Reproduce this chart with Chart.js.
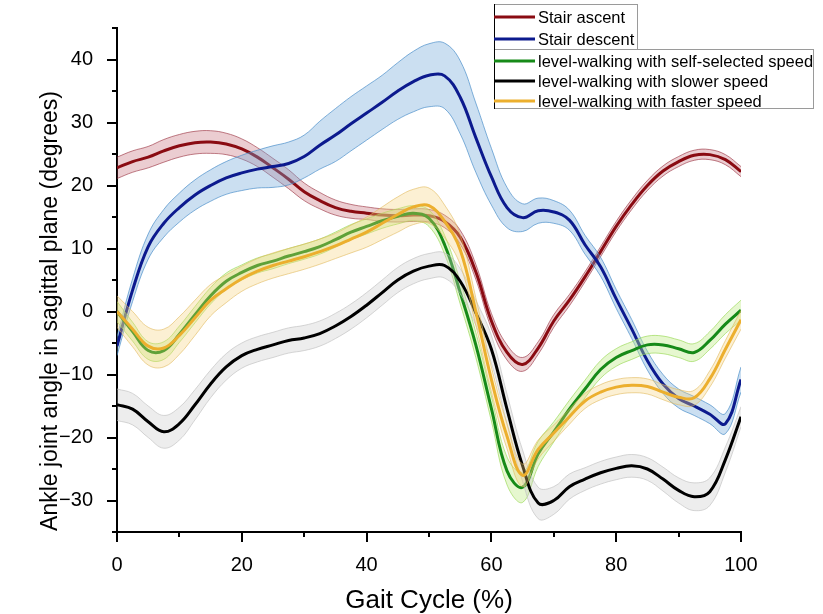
<!DOCTYPE html>
<html>
<head>
<meta charset="utf-8">
<title>Ankle joint angle</title>
<script src="https://cdn.jsdelivr.net/npm/chart.js@4.4.1/dist/chart.umd.min.js"></script>
<style>
  html, body { margin: 0; padding: 0; background: #fff; }
  canvas { display: block; }
</style>
</head>
<body>
<canvas id="ankleChart" width="823" height="614"></canvas>
<script>
// gait cycle sample points (%)
const gaitPct = [0, 2.5, 5, 7.5, 10, 12.5, 15, 17.5, 20, 22.5, 25, 27.5, 30, 32.5, 35, 37.5, 40, 42.5, 45, 47.5,
  50, 52.5, 55, 57.5, 60, 62.5, 65, 67.5, 70, 72.5, 75, 77.5, 80, 82.5, 85, 87.5, 90, 92.5, 95, 97.5, 100];

// mean ankle angle (deg) and spread for each task
const stairAscent = [22.8, 23.8, 24.5, 25.5, 26.3, 26.8, 26.9, 26.6, 25.8, 24.5, 22.8, 21.0, 19.0, 17.6, 16.5, 15.9, 15.6, 15.3, 15.2, 15.3,
  15.2, 14.3, 11.8, 6.3, -1.5, -6.5, -8.4, -5.8, -1.5, 1.8, 5.5, 9.5, 13.5, 17.0, 20.0, 22.3, 23.8, 24.8, 24.9, 24.1, 22.2];
const ascentSd = [1.7, 1.7, 1.7, 1.8, 1.8, 1.8, 1.8, 1.7, 1.6, 1.5, 1.5, 1.5, 1.4, 1.3, 1.2, 1.1, 1.0, 1.0, 1.0, 1.0,
  1.0, 1.0, 1.1, 1.2, 1.2, 1.2, 1.1, 1.0, 1.0, 0.9, 0.8, 0.8, 0.8, 0.8, 0.8, 0.8, 0.8, 0.8, 0.8, 0.8, 0.8];

const stairDescent = [-5.5, 3.4, 10.3, 14.0, 16.5, 18.5, 20.0, 21.2, 22.0, 22.6, 23.0, 23.5, 24.6, 26.4, 28.0, 29.8, 31.5, 33.2, 35.0, 36.5,
  37.5, 37.4, 34.0, 27.6, 21.4, 16.5, 14.9, 16.0, 15.8, 14.5, 10.6, 7.1, 2.0, -2.8, -7.8, -11.5, -13.8, -15.0, -16.3, -17.8, -10.8];
const descentSd = [1.5, 1.8, 2.0, 2.2, 2.3, 2.4, 2.5, 2.6, 2.8, 3.0, 3.3, 3.4, 3.4, 3.8, 4.2, 4.3, 4.3, 4.3, 4.5, 4.8,
  5.0, 5.2, 5.8, 5.5, 4.5, 3.2, 2.2, 2.0, 1.8, 1.6, 1.5, 1.5, 1.5, 1.5, 1.5, 1.5, 1.5, 1.5, 1.5, 1.6, 2.0];

const levelSelf = [0.0, -3.2, -6.2, -6.2, -3.6, -0.5, 2.5, 4.8, 6.2, 7.3, 8.0, 8.8, 9.5, 10.3, 11.4, 12.6, 13.5, 14.4, 15.1, 15.6,
  14.8, 10.6, 3.0, -5.3, -15.4, -25.3, -27.9, -22.6, -19.1, -15.5, -12.3, -9.2, -7.3, -6.2, -5.3, -5.3, -5.9, -6.5, -4.6, -2.0, 0.2];
const selfSd = [1.6, 1.5, 1.4, 1.4, 1.3, 1.3, 1.3, 1.3, 1.2, 1.2, 1.2, 1.2, 1.2, 1.2, 1.2, 1.2, 1.2, 1.2, 1.2, 1.2,
  1.3, 1.5, 1.8, 2.0, 2.0, 2.2, 2.4, 2.0, 1.6, 1.4, 1.4, 1.4, 1.4, 1.4, 1.4, 1.4, 1.4, 1.4, 1.4, 1.5, 1.6];

const levelSlow = [-14.8, -15.5, -17.5, -19.1, -17.8, -14.8, -11.5, -8.8, -7.0, -6.0, -5.3, -4.6, -4.2, -3.5, -2.3, -0.8, 1.0, 3.0, 5.0, 6.4,
  7.2, 7.3, 4.8, -0.2, -6.0, -15.5, -24.5, -30.4, -30.0, -27.8, -26.6, -25.6, -24.9, -24.5, -25.0, -26.6, -28.4, -29.4, -28.6, -23.5, -16.7];
const slowSd = [2.5, 2.5, 2.5, 2.6, 2.6, 2.4, 2.2, 2.1, 2.0, 2.0, 2.0, 2.0, 2.0, 2.0, 2.0, 2.0, 2.0, 2.0, 2.0, 2.0,
  2.0, 2.0, 2.0, 2.0, 2.2, 2.4, 2.5, 2.5, 2.2, 2.0, 1.8, 1.8, 1.8, 1.8, 1.8, 1.9, 2.0, 2.2, 2.2, 2.0, 1.6];

const levelFast = [0.0, -2.8, -5.5, -5.8, -3.8, -1.0, 1.8, 3.6, 5.2, 6.4, 7.3, 8.0, 8.7, 9.5, 10.4, 11.5, 12.6, 14.0, 15.4, 16.6,
  16.8, 14.3, 9.8, 0.0, -10.8, -19.8, -26.0, -21.9, -19.3, -16.7, -14.2, -12.8, -12.0, -11.7, -11.9, -12.8, -13.6, -13.7, -10.7, -6.0, -1.3];
const fastSd = [2.5, 2.8, 3.0, 3.0, 3.0, 2.8, 2.5, 2.2, 2.0, 2.0, 2.0, 2.0, 2.0, 2.0, 2.0, 2.2, 2.4, 2.6, 2.8, 2.8,
  2.8, 2.6, 2.4, 2.2, 2.0, 2.0, 1.8, 1.5, 1.3, 1.2, 1.2, 1.2, 1.2, 1.2, 1.2, 1.2, 1.2, 1.2, 1.3, 1.4, 1.5];

const xTicks = [0, 10, 20, 30, 40, 50, 60, 70, 80, 90, 100];
const yTicks = [-35, -30, -25, -20, -15, -10, -5, 0, 5, 10, 15, 20, 25, 30, 35, 40, 45];

const FONT = "'Liberation Sans', Arial, Helvetica, sans-serif";

// drawn in this order, later ones on top
const series = [
  { label: 'Stair ascent', mean: stairAscent, sd: ascentSd,
    line: '#8a0b12', fill: 'rgba(180,70,85,0.27)', edge: 'rgba(150,40,55,0.75)' },
  { label: 'Stair descent', mean: stairDescent, sd: descentSd,
    line: '#0c1a8e', fill: 'rgba(110,165,215,0.36)', edge: 'rgba(70,140,200,0.85)' },
  { label: 'level-walking with self-selected speed', mean: levelSelf, sd: selfSd,
    line: '#168a18', fill: 'rgba(190,235,130,0.38)', edge: 'rgba(150,215,80,0.8)' },
  { label: 'level-walking with slower speed', mean: levelSlow, sd: slowSd,
    line: '#000000', fill: 'rgba(200,200,200,0.32)', edge: 'rgba(190,190,190,0.8)' },
  { label: 'level-walking with faster speed', mean: levelFast, sd: fastSd,
    line: '#ecaf2e', fill: 'rgba(245,210,120,0.33)', edge: 'rgba(225,185,90,0.75)' }
];

const toPoints = arr => gaitPct.map((x, i) => ({ x: x, y: arr[i] }));

const datasets = [];
series.forEach(s => {
  const upper = s.mean.map((v, i) => v + s.sd[i]);
  const lower = s.mean.map((v, i) => v - s.sd[i]);
  datasets.push({ data: toPoints(upper), borderColor: s.edge, borderWidth: 0.8,
    backgroundColor: s.fill, fill: '+1' });
  datasets.push({ data: toPoints(lower), borderColor: s.edge, borderWidth: 0.8, fill: false });
  datasets.push({ label: s.label, data: toPoints(s.mean), borderColor: s.line, borderWidth: 3, fill: false });
});
datasets.forEach((d, k) => {
  d.order = datasets.length - k;
  d.pointRadius = 0;
  d.tension = 0.4;
});

// outward tick marks, long on labelled values, plus axis titles
const axisTicks = {
  id: 'axisTicks',
  afterDraw(chart) {
    const { ctx, chartArea, scales } = chart;
    ctx.save();
    ctx.strokeStyle = '#000';
    ctx.lineWidth = 2;
    ctx.beginPath();
    xTicks.forEach(v => {
      const px = Math.round(scales.x.getPixelForValue(v));
      const len = v % 20 === 0 ? 10 : 5;
      ctx.moveTo(px, chartArea.bottom);
      ctx.lineTo(px, chartArea.bottom + len);
    });
    yTicks.forEach(v => {
      const py = Math.round(scales.y.getPixelForValue(v));
      const len = v % 10 === 0 ? 10 : 5;
      ctx.moveTo(chartArea.left, py);
      ctx.lineTo(chartArea.left - len, py);
    });
    ctx.stroke();

    ctx.fillStyle = '#000';
    ctx.font = '26px ' + FONT;
    ctx.textAlign = 'center';
    ctx.textBaseline = 'alphabetic';
    ctx.fillText('Gait Cycle (%)', (chartArea.left + chartArea.right) / 2, 608);
    ctx.translate(57, 311);
    ctx.rotate(-Math.PI / 2);
    ctx.font = '23px ' + FONT;
    ctx.fillText('Ankle joint angle in sagittal plane (degrees)', 0, 0);
    ctx.restore();
  }
};

// two framed legend blocks in the upper right
const boxLegend = {
  id: 'boxLegend',
  afterDraw(chart) {
    const { ctx } = chart;
    const rowY = [17, 39, 61, 81, 101];
    ctx.save();
    ctx.fillStyle = '#fff';
    ctx.fillRect(494, 4, 143, 45);
    ctx.fillRect(494, 49, 319, 59);
    ctx.strokeStyle = '#9a9a9a';
    ctx.lineWidth = 1;
    ctx.strokeRect(494.5, 4.5, 143, 45);
    ctx.strokeRect(494.5, 49.5, 319, 59);
    ctx.strokeStyle = '#000';
    ctx.beginPath();
    ctx.moveTo(494.5, 4);
    ctx.lineTo(494.5, 109);
    ctx.stroke();
    ctx.font = '16.5px ' + FONT;
    ctx.textAlign = 'left';
    ctx.textBaseline = 'middle';
    series.forEach((s, i) => {
      ctx.strokeStyle = s.line;
      ctx.lineWidth = 3;
      ctx.beginPath();
      ctx.moveTo(494, rowY[i]);
      ctx.lineTo(535, rowY[i]);
      ctx.stroke();
      ctx.fillStyle = '#000';
      ctx.fillText(s.label, 538, rowY[i] + 1);
    });
    ctx.restore();
  }
};

new Chart(document.getElementById('ankleChart'), {
  type: 'line',
  data: { datasets: datasets },
  options: {
    responsive: false,
    animation: false,
    devicePixelRatio: 1,
    layout: { padding: { top: 26, right: 82, left: 0, bottom: 0 } },
    plugins: {
      legend: { display: false },
      tooltip: { enabled: false }
    },
    scales: {
      x: {
        type: 'linear', min: 0, max: 100,
        afterFit: s => { s.height = 82; },
        afterBuildTicks: s => { s.ticks = xTicks.map(v => ({ value: v })); },
        grid: { display: false },
        border: { display: true, color: '#000', width: 2 },
        ticks: {
          autoSkip: false, maxRotation: 0, padding: 13, color: '#000',
          font: { family: FONT, size: 20 },
          callback: v => (v % 20 === 0 ? String(v) : '')
        }
      },
      y: {
        type: 'linear', min: -35, max: 45,
        afterFit: s => { s.width = 117; },
        afterBuildTicks: s => { s.ticks = yTicks.map(v => ({ value: v })); },
        grid: { display: false },
        border: { display: true, color: '#000', width: 2 },
        ticks: {
          autoSkip: false, padding: 16, color: '#000',
          font: { family: FONT, size: 20 },
          callback: v => (v % 10 === 0 ? String(v).replace('-', '\u2212') : '')
        }
      }
    }
  },
  plugins: [axisTicks, boxLegend]
});
</script>
</body>
</html>
